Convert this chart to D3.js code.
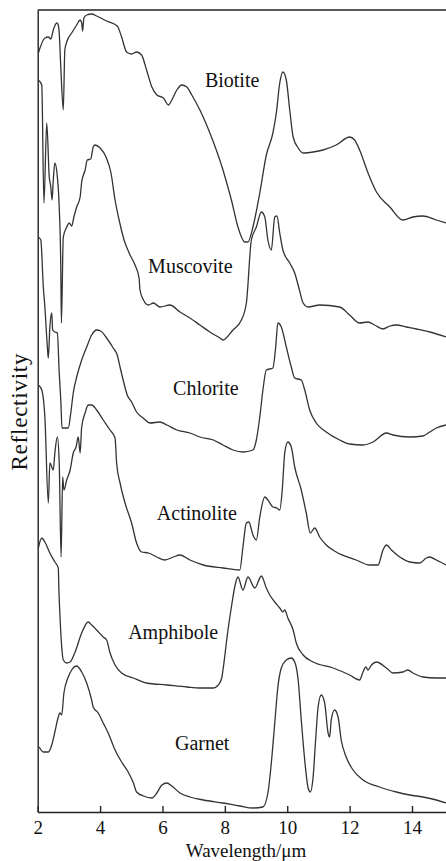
<!DOCTYPE html>
<meta charset='utf-8'>
<style>
body { margin: 0; background: #fff; }
svg text { font-family: 'Liberation Serif', 'Times New Roman', serif; fill: #111; }
.spectra path { fill: none; stroke: #333; stroke-width: 1.3px; stroke-linejoin: round; }
.axis path, .axis line { stroke: #222; stroke-width: 1.4px; }
.axis text { font-family: 'Liberation Serif', serif; font-size: 19px; fill: #111; }
</style>
<svg width='446' height='861'></svg>
<script src='https://cdn.jsdelivr.net/npm/d3@7/dist/d3.min.js'></script>
<script>
  // wavelength (um), relative reflectivity (curves stacked with offsets)
  var minerals = ['Biotite', 'Muscovite', 'Chlorite', 'Actinolite', 'Amphibole', 'Garnet'];
  var xTicks = [2, 4, 6, 8, 10, 12, 14];

  var biotite = [[2.02,7.59],[2.23,7.74],[2.34,7.75],[2.42,7.73],[2.50,7.82],[2.61,7.89],[2.66,7.87],[2.69,7.79],[2.74,7.45],[2.82,7.02],[2.87,7.62],[2.93,7.70],[3.09,7.79],[3.25,7.87],[3.36,7.92],[3.41,7.89],[3.44,7.81],[3.48,7.94],[3.57,7.97],[3.73,7.98],[3.89,7.96],[4.21,7.91],[4.55,7.86],[4.69,7.75],[4.85,7.60],[5.01,7.58],[5.17,7.60],[5.33,7.57],[5.49,7.42],[5.66,7.25],[5.82,7.17],[6.03,7.14],[6.19,7.07],[6.30,7.12],[6.46,7.22],[6.62,7.27],[6.78,7.25],[6.94,7.17],[7.20,7.02],[7.52,6.79],[7.94,6.42],[8.21,6.12],[8.42,5.85],[8.64,5.70],[8.74,5.70],[8.90,5.85],[9.12,6.19],[9.33,6.57],[9.54,6.79],[9.65,6.99],[9.76,7.29],[9.86,7.40],[9.97,7.32],[10.08,7.02],[10.19,6.75],[10.35,6.64],[10.51,6.59],[10.83,6.60],[11.15,6.62],[11.57,6.67],[12.00,6.75],[12.16,6.72],[12.32,6.62],[12.59,6.39],[12.86,6.20],[13.29,6.05],[13.71,5.92],[14.03,5.95],[14.35,5.96],[14.78,5.92],[15.09,5.89]];

  var muscovite = [[2.02,7.32],[2.13,7.27],[2.20,6.09],[2.29,6.89],[2.37,6.35],[2.42,6.25],[2.46,6.12],[2.50,6.32],[2.55,6.49],[2.63,6.35],[2.69,6.05],[2.74,5.45],[2.76,4.89],[2.82,5.75],[2.93,5.85],[3.01,5.89],[3.09,5.86],[3.16,5.95],[3.25,6.05],[3.36,6.15],[3.41,6.30],[3.52,6.42],[3.59,6.52],[3.70,6.53],[3.78,6.65],[3.84,6.67],[4.00,6.64],[4.19,6.55],[4.35,6.39],[4.48,6.12],[4.61,5.92],[4.77,5.72],[4.96,5.57],[5.12,5.47],[5.25,5.34],[5.28,5.22],[5.39,5.12],[5.55,5.07],[5.71,5.09],[5.92,5.05],[6.24,5.07],[6.56,5.00],[6.88,4.94],[7.20,4.87],[7.52,4.80],[7.84,4.74],[7.94,4.72],[8.26,4.82],[8.53,4.92],[8.69,5.09],[8.85,5.72],[9.01,5.85],[9.17,6.00],[9.28,5.95],[9.38,5.72],[9.49,5.62],[9.60,5.95],[9.67,5.96],[9.76,5.79],[9.86,5.62],[10.08,5.49],[10.24,5.39],[10.39,5.22],[10.51,5.09],[10.67,5.05],[11.04,5.07],[11.68,5.05],[12.00,4.97],[12.32,4.89],[12.59,4.90],[12.80,4.87],[13.07,4.83],[13.29,4.86],[13.50,4.87],[13.82,4.85],[14.14,4.83],[14.57,4.80],[15.09,4.75]];

  var chlorite = [[2.02,5.75],[2.10,5.72],[2.18,5.25],[2.23,5.05],[2.31,4.65],[2.34,4.54],[2.39,4.85],[2.45,4.99],[2.48,4.82],[2.55,4.80],[2.63,4.79],[2.69,4.39],[2.74,4.12],[2.78,3.84],[2.88,3.84],[2.98,3.84],[3.06,3.99],[3.14,4.19],[3.25,4.35],[3.41,4.52],[3.57,4.65],[3.73,4.77],[3.89,4.82],[4.02,4.81],[4.21,4.74],[4.42,4.64],[4.55,4.57],[4.64,4.45],[4.74,4.32],[4.87,4.17],[5.01,4.10],[5.17,4.00],[5.38,3.94],[5.60,3.89],[5.92,3.90],[6.14,3.87],[6.46,3.82],[6.88,3.79],[7.20,3.75],[7.63,3.72],[7.94,3.67],[8.26,3.62],[8.58,3.60],[8.90,3.62],[9.01,3.72],[9.12,3.95],[9.22,4.22],[9.33,4.42],[9.54,4.44],[9.63,4.65],[9.70,4.89],[9.81,4.85],[9.97,4.65],[10.13,4.45],[10.24,4.34],[10.45,4.32],[10.56,4.22],[10.72,4.02],[10.93,3.89],[11.25,3.80],[11.68,3.72],[12.00,3.68],[12.43,3.67],[12.75,3.70],[13.18,3.79],[13.39,3.77],[13.93,3.75],[14.35,3.76],[14.57,3.80],[14.78,3.84],[15.09,3.87]];

  var actinolite = [[2.02,4.27],[2.13,4.22],[2.23,3.95],[2.34,3.09],[2.39,3.49],[2.50,3.42],[2.55,3.59],[2.63,3.75],[2.69,3.49],[2.75,2.55],[2.80,3.35],[2.84,3.22],[2.93,3.32],[3.04,3.42],[3.14,3.59],[3.23,3.65],[3.30,3.75],[3.36,3.59],[3.41,3.85],[3.52,3.99],[3.62,4.07],[3.73,4.07],[3.89,4.02],[4.10,3.92],[4.32,3.82],[4.48,3.74],[4.53,3.49],[4.64,3.29],[4.80,3.09],[5.01,2.89],[5.17,2.69],[5.33,2.60],[5.55,2.59],[5.82,2.55],[6.08,2.52],[6.35,2.55],[6.56,2.57],[6.88,2.52],[7.31,2.47],[7.94,2.44],[8.48,2.42],[8.58,2.65],[8.69,2.89],[8.77,2.90],[8.90,2.77],[9.01,2.72],[9.12,2.95],[9.28,3.15],[9.38,3.12],[9.54,3.05],[9.67,3.04],[9.76,3.02],[9.84,3.22],[9.92,3.59],[10.02,3.70],[10.13,3.65],[10.24,3.45],[10.45,3.22],[10.61,2.99],[10.74,2.79],[10.88,2.84],[11.04,2.75],[11.25,2.67],[11.57,2.60],[12.21,2.52],[12.64,2.47],[12.91,2.47],[13.07,2.62],[13.18,2.67],[13.34,2.62],[13.61,2.55],[13.93,2.50],[14.25,2.49],[14.46,2.54],[14.57,2.55],[14.78,2.52],[15.09,2.47]];

  var amphibole = [[2.02,2.64],[2.13,2.74],[2.23,2.70],[2.39,2.59],[2.55,2.50],[2.66,2.44],[2.68,2.22],[2.71,1.99],[2.77,1.65],[2.82,1.52],[2.93,1.49],[3.04,1.50],[3.20,1.60],[3.41,1.79],[3.62,1.90],[3.73,1.87],[3.89,1.82],[4.10,1.75],[4.21,1.72],[4.32,1.59],[4.48,1.47],[4.69,1.39],[5.07,1.34],[5.49,1.29],[6.14,1.27],[6.78,1.25],[7.20,1.24],[7.63,1.24],[7.79,1.27],[7.90,1.34],[7.94,1.42],[8.10,1.82],[8.21,2.05],[8.33,2.27],[8.42,2.35],[8.58,2.22],[8.74,2.35],[8.96,2.24],[9.17,2.36],[9.33,2.24],[9.44,2.17],[9.60,2.10],[9.76,2.04],[9.86,2.00],[9.92,2.02],[10.02,1.94],[10.19,1.82],[10.29,1.69],[10.51,1.57],[10.83,1.50],[11.47,1.44],[12.00,1.37],[12.32,1.32],[12.43,1.40],[12.52,1.45],[12.59,1.42],[12.70,1.47],[12.86,1.50],[13.18,1.44],[13.39,1.39],[13.71,1.40],[13.87,1.42],[14.03,1.39],[14.35,1.35],[14.78,1.34],[15.09,1.34]];

  var garnet = [[2.05,0.65],[2.18,0.60],[2.34,0.60],[2.45,0.67],[2.55,0.80],[2.66,0.95],[2.71,0.99],[2.77,0.97],[2.84,1.19],[2.98,1.35],[3.09,1.42],[3.25,1.46],[3.41,1.40],[3.57,1.29],[3.73,1.12],[3.78,1.05],[3.94,0.99],[4.10,0.89],[4.26,0.79],[4.48,0.62],[4.69,0.50],[4.90,0.40],[5.07,0.29],[5.17,0.20],[5.39,0.16],[5.66,0.14],[5.82,0.19],[5.98,0.27],[6.14,0.29],[6.30,0.26],[6.56,0.19],[6.88,0.15],[7.31,0.12],[7.94,0.09],[8.48,0.06],[8.90,0.04],[9.22,0.05],[9.38,0.19],[9.49,0.49],[9.60,0.89],[9.70,1.25],[9.81,1.44],[9.97,1.52],[10.13,1.54],[10.24,1.50],[10.35,1.32],[10.45,0.92],[10.56,0.52],[10.67,0.24],[10.74,0.20],[10.83,0.35],[10.91,0.72],[10.99,1.05],[11.09,1.17],[11.20,1.09],[11.31,0.79],[11.36,0.75],[11.41,0.92],[11.52,1.02],[11.63,0.95],[11.73,0.72],[11.89,0.55],[12.11,0.42],[12.43,0.32],[12.96,0.25],[13.50,0.20],[13.93,0.17],[14.35,0.15],[14.78,0.12],[15.09,0.09]];

  var spectra = [biotite, muscovite, chlorite, actinolite, amphibole, garnet];

  var svg = d3.select('svg'),
    width = +svg.attr('width'),
    height = +svg.attr('height');

  var padLeft = 37.7, padTop = 10, axisY = 812;

  var x = d3.scaleLinear().domain([2, 15.09]).range([padLeft, width]);
  var y = d3.scaleLinear().domain([0, 8.02]).range([axisY, padTop]);

  svg.append('clipPath').attr('id', 'plot')
    .append('rect').attr('x', padLeft).attr('y', padTop)
    .attr('width', width - padLeft).attr('height', axisY - padTop);

  var line = d3.line()
    .x(d => x(d[0]))
    .y(d => y(d[1]))
    .curve(d3.curveMonotoneX);

  svg.append('g')
      .attr('class', 'spectra')
      .attr('clip-path', 'url(#plot)')
    .selectAll('path')
    .data(spectra)
    .enter().append('path')
      .attr('d', line);

  // label anchors in data units (start of text, baseline)
  var labelAt = [[7.36, 7.25], [5.54, 5.39], [6.34, 4.17], [5.82, 2.92], [4.90, 1.73], [6.40, 0.62]];
  svg.append('g')
    .selectAll('text')
    .data(minerals)
    .enter().append('text')
      .attr('x', (d, i) => x(labelAt[i][0]))
      .attr('y', (d, i) => y(labelAt[i][1]))
      .attr('font-size', 20)
      .text(d => d);

  // frame: top edge and left edge
  svg.append('line')
    .attr('x1', padLeft).attr('x2', width)
    .attr('y1', padTop).attr('y2', padTop)
    .attr('stroke', '#222').attr('stroke-width', 1.4);

  svg.append('g')
    .attr('class', 'axis')
    .attr('transform', 'translate(' + padLeft + ',0)')
    .call(d3.axisLeft(y).tickValues([]).tickSizeOuter(0));

  svg.append('g')
    .attr('class', 'axis')
    .attr('transform', 'translate(0,' + axisY + ')')
    .call(d3.axisBottom(x).tickValues(xTicks).tickSizeInner(-6).tickSizeOuter(0).tickPadding(9));

  svg.selectAll('.axis .domain').attr('stroke', '#222');

  svg.append('text')
    .attr('x', 246).attr('y', 857)
    .attr('text-anchor', 'middle')
    .attr('font-size', 19)
    .text('Wavelength/\u03bcm');

  svg.append('text')
    .attr('transform', 'translate(27,412) rotate(-90)')
    .attr('text-anchor', 'middle')
    .attr('font-size', 23)
    .attr('textLength', 117)
    .attr('lengthAdjust', 'spacing')
    .text('Reflectivity');
</script>
